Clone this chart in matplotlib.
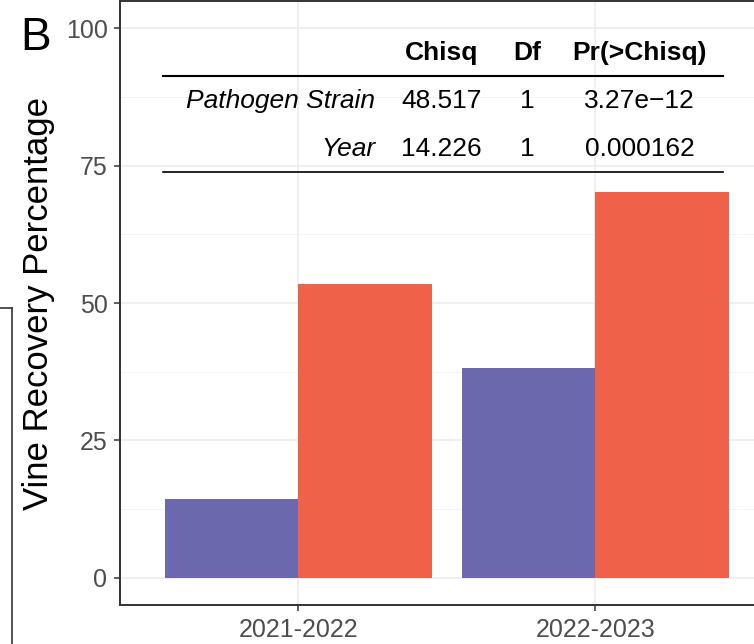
import numpy as np
import matplotlib
matplotlib.use("Agg")
import matplotlib.pyplot as plt
from matplotlib.lines import Line2D
from matplotlib.ticker import MultipleLocator

plt.rcParams['font.family'] = ['Liberation Sans', 'DejaVu Sans']

# data
seasons = ["2021-2022", "2022-2023"]
strain_a = [14.3, 38.2]   # purple
strain_b = [53.4, 70.2]   # red
colors = ["#6B68AE", "#EF6249"]

tab_header = ["Chisq", "Df", "Pr(>Chisq)"]
tab_rows = ["Pathogen Strain", "Year"]
tab_chisq = ["48.517", "14.226"]
tab_df = ["1", "1"]
tab_p = ["3.27e\u221212", "0.000162"]

fig = plt.figure(figsize=(7.54, 6.44), dpi=100)
# axes runs past the right edge like the cropped original
ax = fig.add_axes([120 / 754, 39 / 644, 653.4 / 754, 604 / 644])

x = np.arange(1, len(seasons) + 1)
w = 0.45
ax.bar(x - w / 2, strain_a, width=w, color=colors[0], zorder=3)
ax.bar(x + w / 2, strain_b, width=w, color=colors[1], zorder=3)

ax.set_xlim(0.4, 2.6)
ax.set_ylim(-5, 105)
ax.set_xticks(x)
ax.set_xticklabels(seasons)
ax.set_yticks([0, 25, 50, 75, 100])
ax.yaxis.set_minor_locator(MultipleLocator(12.5))

ax.grid(which='major', color='#EBEBEB', lw=1.1, zorder=0)
ax.grid(which='minor', axis='y', color='#F2F2F2', lw=0.6, zorder=0)
ax.tick_params(axis='both', which='major', labelsize=18, labelcolor='#4D4D4D',
               color='#333333', length=4.5, width=1.1)
ax.tick_params(axis='y', which='major', pad=4.5)
ax.tick_params(axis='x', which='major', pad=5)
ax.tick_params(axis='y', which='minor', length=0)
for s in ax.spines.values():
    s.set_color('#333333')
    s.set_linewidth(1.4)

ax.set_ylabel("Vine Recovery Percentage", fontsize=25)
ax.yaxis.set_label_coords(-0.0995, 0.5)

# anova table
hdr_y, r1_y, r2_y = 95.6, 86.8, 78.0
col_x = [1.482, 1.77, 2.15]
fs = 19
for cx, h in zip(col_x, tab_header):
    ax.text(cx, hdr_y, h, ha='center', va='center', fontsize=fs, fontweight='bold', zorder=5)
for ry, name, c, d, p in zip([r1_y, r2_y], tab_rows, tab_chisq, tab_df, tab_p):
    ax.text(1.26, ry, name, ha='right', va='center', fontsize=fs, style='italic', zorder=5)
    ax.text(col_x[0], ry, c, ha='center', va='center', fontsize=fs, zorder=5)
    ax.text(col_x[1], ry, d, ha='center', va='center', fontsize=fs, zorder=5)
    ax.text(col_x[2], ry, p, ha='center', va='center', fontsize=fs, zorder=5)
ax.plot([0.545, 2.431], [91.4, 91.4], color='black', lw=1.5, zorder=5)
ax.plot([0.545, 2.431], [73.8, 73.8], color='black', lw=1.2, zorder=5)

# panel letter
fig.text(20 / 754, 1 - 50 / 644, "B", fontsize=33, ha='left', va='baseline')

# edge of neighbouring panel
fig.add_artist(Line2D([12 / 754, 12 / 754], [0, 1 - 308 / 644], color='#333333', lw=1.2))
fig.add_artist(Line2D([0, 12 / 754], [1 - 308 / 644, 1 - 308 / 644], color='#333333', lw=1.2))

fig.savefig("out.png", dpi=100)
